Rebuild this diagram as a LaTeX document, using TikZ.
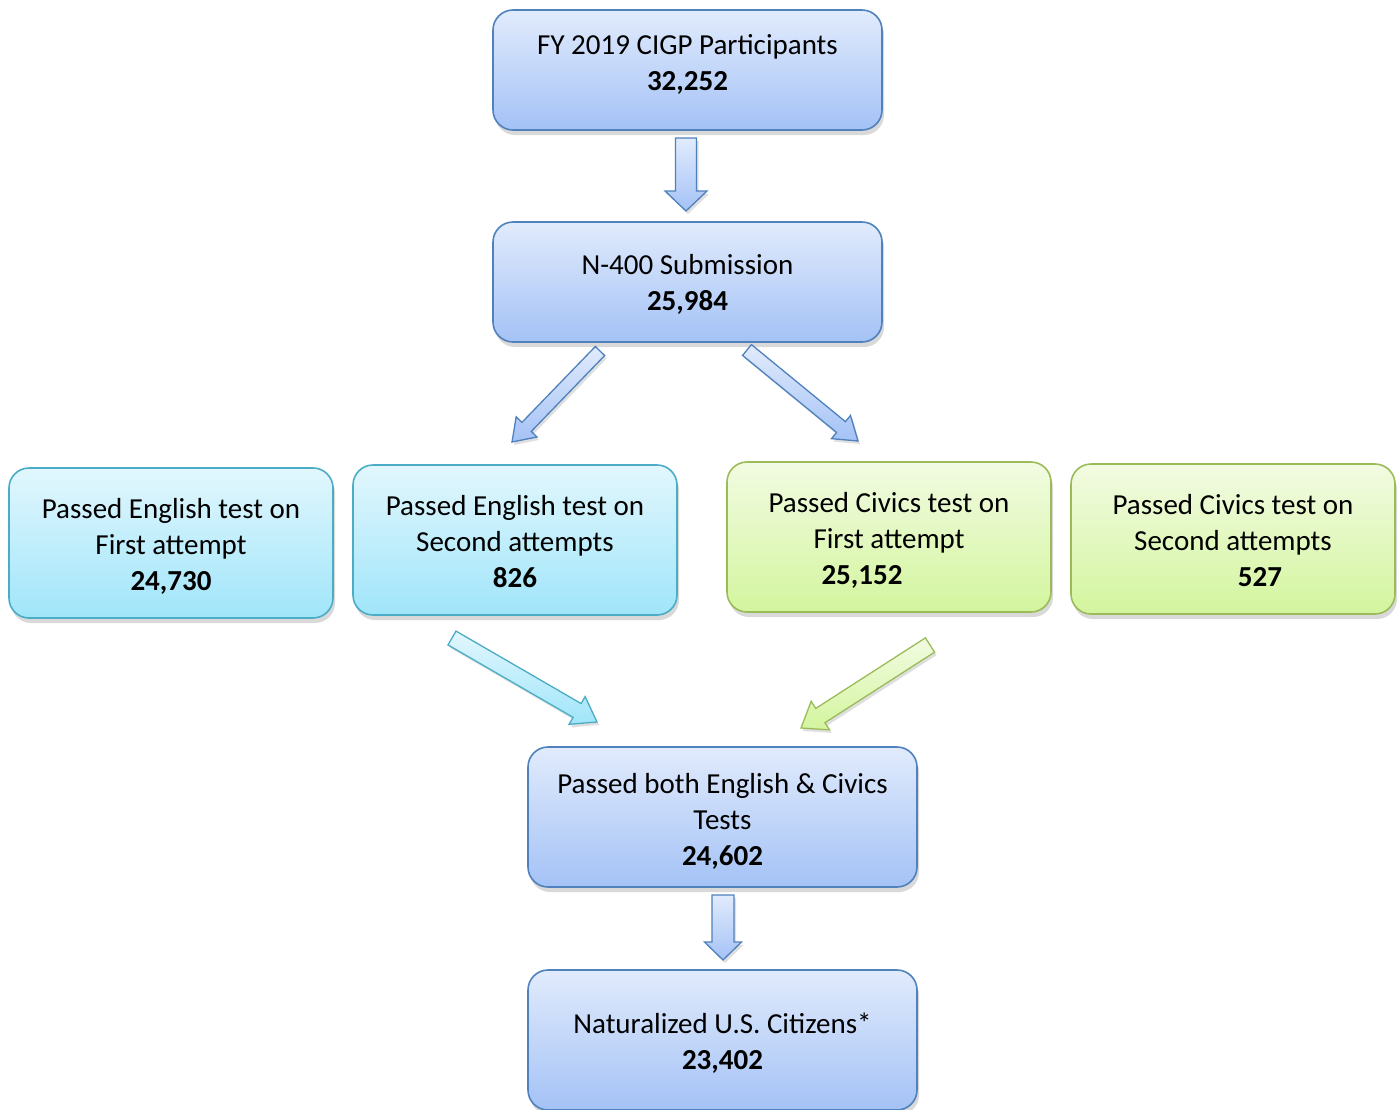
\documentclass[tikz,border=0pt]{standalone}
\usepackage{fontspec}
\setmainfont{Carlito}
\usetikzlibrary{calc,shadows}
\definecolor{btop}{HTML}{E1EBFC}
\definecolor{bbot}{HTML}{A4C2F6}
\definecolor{bborder}{HTML}{4F81BD}
\definecolor{ctop}{HTML}{E2F7FD}
\definecolor{cbot}{HTML}{A0E5FA}
\definecolor{cborder}{HTML}{4BACC6}
\definecolor{gtop}{HTML}{F2FBE2}
\definecolor{gbot}{HTML}{D3F59E}
\definecolor{gborder}{HTML}{9BBB59}
\newcommand{\blkarrow}[6]{%
  \path ($(#2)!#5!(#1)$) coordinate (#1-hb);
  \draw[#6] ($(#1)!#3!90:(#2)$) -- ($(#1-hb)!#3!90:(#2)$) -- ($(#1-hb)!#4!90:(#2)$)
    -- (#2) -- ($(#1-hb)!#4!-90:(#2)$) -- ($(#1-hb)!#3!-90:(#2)$)
    -- ($(#1)!#3!-90:(#2)$) -- cycle;}
\begin{document}
\begin{tikzpicture}[x=1pt,y=-1pt,
  box/.style={rounded corners=20pt, line width=1.6pt, inner sep=0pt,
    drop shadow={shadow xshift=2pt,shadow yshift=-5pt,opacity=0.3}},
  txt/.style={align=center, inner sep=0pt, font=\fontsize{29}{36}\selectfont},
  bluebox/.style={box, draw=bborder, top color=btop, bottom color=bbot,
    minimum width=389pt},
  cyanbox/.style={box, draw=cborder, top color=ctop, bottom color=cbot,
    minimum width=324pt, minimum height=150pt},
  greenbox/.style={box, draw=gborder, top color=gtop, bottom color=gbot,
    minimum width=324pt, minimum height=150pt},
  barrow/.style={draw=bborder, line width=1.3pt, top color=btop, bottom color=bbot,
    drop shadow={shadow xshift=2pt,shadow yshift=-3pt,opacity=0.25}},
  carrow/.style={draw=cborder, line width=1.3pt, top color=ctop, bottom color=cbot,
    drop shadow={shadow xshift=2pt,shadow yshift=-3pt,opacity=0.25}},
  garrow/.style={draw=gborder, line width=1.3pt, top color=gtop, bottom color=gbot,
    drop shadow={shadow xshift=2pt,shadow yshift=-3pt,opacity=0.25}}]
\useasboundingbox (0,0) rectangle (1398,1109);
\clip (0,0) rectangle (1398,1109);

% boxes
\node[bluebox, minimum height=120pt] (top) at (687.5,70) {};
\node[bluebox, minimum height=120pt] (n400) at (687.5,282) {};
\node[cyanbox] (eng1) at (171,543) {};
\node[cyanbox] (eng2) at (515,540) {};
\node[greenbox] (civ1) at (889,537) {};
\node[greenbox] (civ2) at (1233,539) {};
\node[bluebox, minimum height=140pt] (both) at (722.5,817) {};
\node[bluebox, minimum height=140pt] (nat) at (722.5,1040) {};

% texts
\node[txt] (toptext) at ($(top.center)+(0,-6)$) {FY 2019 CIGP Participants\\\textbf{32,252}};
\node[txt] (n400text) at ($(n400.center)+(0,2)$) {N-400 Submission\\\textbf{25,984}};
\node[txt] (eng1text) at ($(eng1.center)+(0,3)$) {Passed English test on\\First attempt\\\textbf{24,730}};
\node[txt] (eng2text) at ($(eng2.center)+(0,2)$) {Passed English test on\\Second attempts\\\textbf{826}};
\node[txt] (civ1text) at ($(civ1.center)+(0,3)$) {Passed Civics test on\\First attempt\\\hspace*{-54pt}\textbf{25,152}};
\node[txt] (civ2text) at ($(civ2.center)+(0,2)$) {Passed Civics test on\\Second attempts\\\textbf{527}\hspace*{-54pt}};
\node[txt] (bothtext) at ($(both.center)+(0,4)$) {Passed both English \& Civics\\Tests\\\textbf{24,602}};
\node[txt] (nattext) at ($(nat.center)+(0,3)$) {Naturalized U.S. Citizens*\\\textbf{23,402}};

% arrow end points
\coordinate (a1s) at (686,138);  \coordinate (a1e) at (686,211);
\coordinate (a2s) at (600,351);  \coordinate (a2e) at (512,442);
\coordinate (a3s) at (747,350);  \coordinate (a3e) at (858,441);
\coordinate (a4s) at (452,638);  \coordinate (a4e) at (597,722);
\coordinate (a5s) at (930,645);  \coordinate (a5e) at (801,728);
\coordinate (a6s) at (723,895);  \coordinate (a6e) at (723,960);

\blkarrow{a1s}{a1e}{10.5pt}{21pt}{20pt}{barrow}
\blkarrow{a2s}{a2e}{6.5pt}{14.5pt}{21pt}{barrow}
\blkarrow{a3s}{a3e}{7pt}{15pt}{22pt}{barrow}
\blkarrow{a4s}{a4e}{8pt}{16pt}{23pt}{carrow}
\blkarrow{a5s}{a5e}{8.5pt}{17pt}{23pt}{garrow}
\blkarrow{a6s}{a6e}{11pt}{18.5pt}{18pt}{barrow}
\end{tikzpicture}
\end{document}
